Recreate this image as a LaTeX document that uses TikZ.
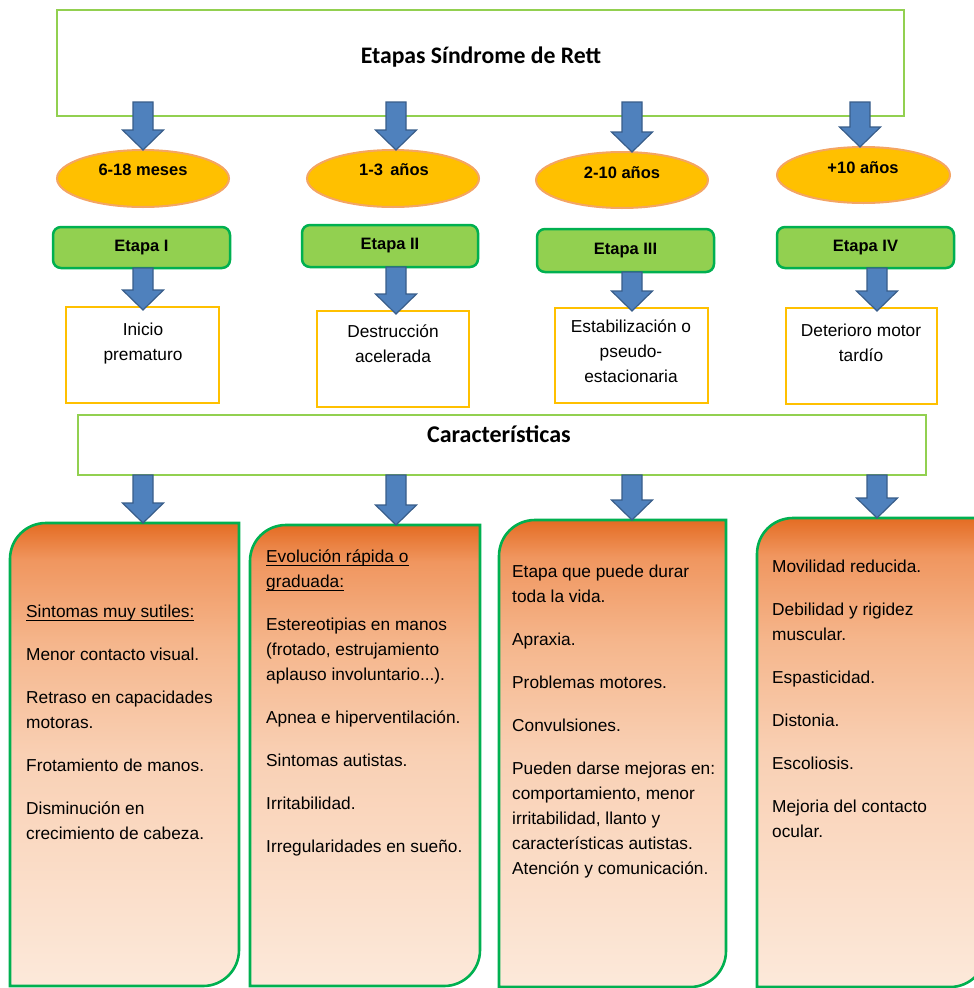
\documentclass[tikz,border=0pt]{standalone}
\usepackage{fontspec}
\setmainfont{Liberation Sans}
\newfontfamily\carl{Carlito}
\usetikzlibrary{calc,shapes.geometric}
\definecolor{lgreen}{RGB}{146,208,80}
\definecolor{dgreen}{RGB}{0,176,80}
\definecolor{gold}{RGB}{255,192,0}
\definecolor{ellb}{RGB}{244,165,100}
\definecolor{afill}{RGB}{79,129,189}
\definecolor{aline}{RGB}{56,93,138}
\definecolor{ptop}{RGB}{228,108,35}
\definecolor{pupper}{RGB}{240,150,95}
\definecolor{pup}{RGB}{245,182,140}
\definecolor{pmid}{RGB}{249,208,180}
\definecolor{pbot}{RGB}{252,233,218}
\pgfdeclareverticalshading{peach}{100bp}{color(0bp)=(pbot); color(25bp)=(pbot); color(50bp)=(pmid); color(62bp)=(pup); color(71bp)=(pupper); color(75bp)=(ptop); color(100bp)=(ptop)}
\newcommand\myul[1]{\setbox0\hbox{#1}\rlap{\rule[-2.8pt]{\wd0}{1pt}}\box0}
\newcommand\barrow[2]{\path[blockarrow] let \p1=#1, \p2=#2 in
  (\x1-10pt,\y1) -- (\x1+10pt,\y1) -- (\x1+10pt,\y2+20pt) -- (\x1+20.5pt,\y2+20pt)
  -- (\x1,\y2) -- (\x1-20.5pt,\y2+20pt) -- (\x1-10pt,\y2+20pt) -- cycle;}
\newcommand\bshape[1]{\path[bottombox] (#1.south west) -- ($(#1.north west)+(0,36)$)
  .. controls ($(#1.north west)+(0,16)$) and ($(#1.north west)+(16,0)$) .. ($(#1.north west)+(36,0)$)
  -- (#1.north east) -- ($(#1.south east)+(0,-36)$)
  .. controls ($(#1.south east)+(0,-16)$) and ($(#1.south east)+(-16,0)$) .. ($(#1.south east)+(-36,0)$)
  -- cycle;}
\tikzset{
  bigbox/.style={draw=lgreen, line width=2.5pt, fill=white, inner sep=0, outer sep=0},
  age/.style={ellipse, draw=ellb, line width=2pt, fill=gold, inner sep=0, outer sep=0, minimum width=172pt, minimum height=57pt},
  agetext/.style={inner sep=0, font=\fontsize{16.5}{20}\selectfont\bfseries},
  stage/.style={draw=dgreen, line width=2.5pt, fill=lgreen, rounded corners=8pt, inner sep=0, outer sep=0, minimum width=177pt, minimum height=42pt, font=\fontsize{16.5}{20}\selectfont\bfseries},
  ybox/.style={draw=gold, line width=2.5pt, fill=white, inner sep=0, outer sep=0, minimum width=152pt, minimum height=96pt},
  ytext/.style={anchor=north, inner sep=0, align=center, font=\fontsize{17.3}{25}\selectfont},
  cbox/.style={inner sep=0, outer sep=0},
  bottombox/.style={shade, shading=peach, draw=dgreen, line width=2.6pt},
  btext/.style={anchor=north west, inner sep=0, align=left, font=\fontsize{17.3}{25}\selectfont},
  blockarrow/.style={fill=afill, draw=aline, line width=1.2pt, line join=miter},
  headtext/.style={inner sep=0, font=\carl\bfseries\fontsize{23.7}{28}\selectfont}
}
\begin{document}
\begin{tikzpicture}[x=1pt,y=-1pt]
\useasboundingbox (0,0) rectangle (974,988);
% column x positions of the block arrows
\coordinate (ax1) at (143,0);
\coordinate (ax2) at (396,0);
\coordinate (ax3) at (632,0);
\coordinate (ax4a) at (860,0);
\coordinate (ax4) at (877,0);
% top box
\node[bigbox, minimum width=847pt, minimum height=106pt] (top) at (480.5,63) {};
\node[headtext] (ttl) at (481,57) {Etapas Síndrome de Rett};
% ages
\node[age] (e1) at (143,178.5) {};
\node[age] (e2) at (393,178.5) {};
\node[age, minimum height=56pt] (e3) at (622,180) {};
\node[age, minimum width=173pt, minimum height=56pt] (e4) at (863.5,175) {};
\node[agetext] (t1) at (143,170) {6-18 meses};
\node[agetext] (t2) at (394,170) {1-3 \,años};
\node[agetext] (t3) at (622,173) {2-10 años};
\node[agetext] (t4) at (863,168) {+10 años};
% stages
\node[stage, minimum height=41pt] (g1) at (141.5,247.5) {Etapa I};
\node[stage, minimum width=176pt] (g2) at (390,246) {Etapa II};
\node[stage, minimum height=43pt] (g3) at (625.5,250.5) {Etapa III};
\node[stage, minimum height=41pt] (g4) at (865.5,247.5) {Etapa IV};
% yellow boxes
\node[ybox, minimum width=153pt] (y1) at (142.5,355) {};
\node[ybox] (y2) at (393,359) {};
\node[ybox, minimum width=153pt, minimum height=95pt] (y3) at (631.5,355.5) {};
\node[ybox, minimum width=151pt] (y4) at (861.5,356) {};
\node[ytext] (yt1) at (143,323) {Inicio\\prematuro};
\node[ytext] (yt2) at (393,325) {Destrucción\\acelerada};
\node[ytext] (yt3) at (631,320) {Estabilización o\\pseudo-\\estacionaria};
\node[ytext] (yt4) at (861,324) {Deterioro motor\\tardío};
% characteristics box
\node[bigbox, minimum width=848pt, minimum height=60pt] (chars) at (502,445) {};
\node[headtext, font=\carl\bfseries\fontsize{24}{28}\selectfont] (ctitle) at (499,434) {Características};
% bottom boxes
\node[cbox, minimum width=229pt, minimum height=463pt] (c1) at (124.5,754.5) {};
\node[cbox, minimum width=230pt, minimum height=461pt] (c2) at (365,755.5) {};
\node[cbox, minimum width=227pt, minimum height=467pt] (c3) at (612.5,753.5) {};
\node[cbox, minimum width=229pt, minimum height=469pt] (c4) at (871.5,752.5) {};
\bshape{c1}
\bshape{c2}
\bshape{c3}
\bshape{c4}
\node[btext] (bt1) at (26,605) {\myul{Sintomas muy sutiles:}\\[18pt]
Menor contacto visual.\\[18pt]
Retraso en capacidades\\
motoras.\\[18pt]
Frotamiento de manos.\\[18pt]
Disminución en\\
crecimiento de cabeza.};
\node[btext] (bt2) at (266,550) {\myul{Evolución rápida o}\\
\myul{graduada:}\\[18pt]
Estereotipias en manos\\
(frotado, estrujamiento\\
aplauso involuntario...).\\[18pt]
Apnea e hiperventilación.\\[18pt]
Sintomas autistas.\\[18pt]
Irritabilidad.\\[18pt]
Irregularidades en sueño.};
\node[btext] (bt3) at (512,565) {Etapa que puede durar\\
toda la vida.\\[18pt]
Apraxia.\\[18pt]
Problemas motores.\\[18pt]
Convulsiones.\\[18pt]
Pueden darse mejoras en:\\
comportamiento, menor\\
irritabilidad, llanto y\\
características autistas.\\
Atención y comunicación.};
\node[btext] (bt4) at (772,560) {Movilidad reducida.\\[18pt]
Debilidad y rigidez\\
muscular.\\[18pt]
Espasticidad.\\[18pt]
Distonia.\\[18pt]
Escoliosis.\\[18pt]
Mejoria del contacto\\
ocular.};
% block arrows, level 1
\barrow{($(ax1|-top.south)+(0,-14)$)}{(ax1|-e1.north)}
\barrow{($(ax2|-top.south)+(0,-14)$)}{(ax2|-e2.north)}
\barrow{($(ax3|-top.south)+(0,-14)$)}{(ax3|-e3.north)}
\barrow{($(ax4a|-top.south)+(0,-14)$)}{(ax4a|-e4.north)}
% level 2
\barrow{(ax1|-g1.south)}{($(ax1|-y1.north)+(0,3)$)}
\barrow{(ax2|-g2.south)}{($(ax2|-y2.north)+(0,3)$)}
\barrow{(ax3|-g3.south)}{($(ax3|-y3.north)+(0,3)$)}
\barrow{(ax4|-g4.south)}{($(ax4|-y4.north)+(0,3)$)}
% level 3
\barrow{(ax1|-chars.south)}{(ax1|-c1.north)}
\barrow{(ax2|-chars.south)}{(ax2|-c2.north)}
\barrow{(ax3|-chars.south)}{(ax3|-c3.north)}
\barrow{(ax4|-chars.south)}{(ax4|-c4.north)}
\end{tikzpicture}
\end{document}
